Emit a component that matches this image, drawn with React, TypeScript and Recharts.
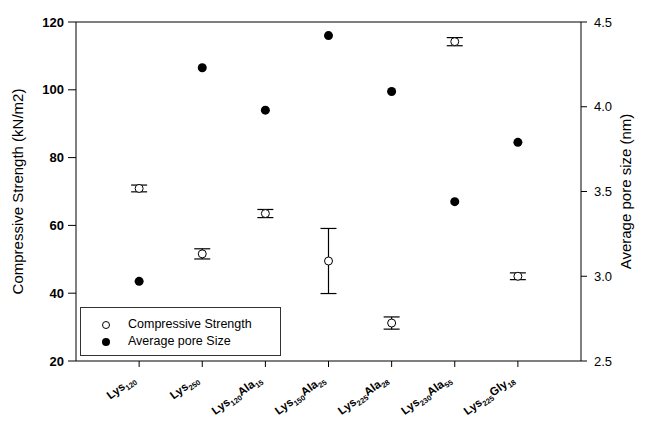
import {
  ComposedChart,
  Scatter,
  XAxis,
  YAxis,
  ErrorBar,
  ReferenceLine,
  Legend,
} from "recharts";

const categories = ["Lys120", "Lys250", "Lys120Ala15", "Lys150Ala25", "Lys225Ala28", "Lys230Ala55", "Lys225Gly18"];
const strength = [70.9, 51.6, 63.5, 49.5, 31.2, 114.2, 45.0];
const strengthErr = [1.0, 1.5, 1.2, 9.6, 1.8, 1.2, 1.0];
const poreSize = [2.97, 4.23, 3.98, 4.42, 4.09, 3.44, 3.79];

const leftTicks = [20, 40, 60, 80, 100, 120];
const rightTicks = [2.5, 3.0, 3.5, 4.0, 4.5];

const data = categories.map((name, i) => ({
  x: i + 1,
  name,
  strength: strength[i],
  strengthErr: strengthErr[i],
  pore: poreSize[i],
}));

const FONT = "Arial, 'Liberation Sans', sans-serif";

// Lys120Ala15 -> Lys + sub(120) + Ala + sub(15)
function XTick(props: any) {
  const { x, y, payload } = props;
  const name = categories[payload.value - 1];
  if (!name) return null;
  const parts = name.match(/[A-Za-z]+|\d+/g) || [];
  let shifted = false;
  const spans = parts.map((p: string, i: number) => {
    const isSub = /\d/.test(p);
    let dy = 0;
    if (isSub && !shifted) { dy = 3; shifted = true; }
    if (!isSub && shifted) { dy = -3; shifted = false; }
    return (
      <tspan key={i} fontSize={isSub ? 7.5 : 11.5} dy={dy}>{p}</tspan>
    );
  });
  return (
    <text
      transform={`translate(${x - 3},${y + 12}) rotate(-36)`}
      textAnchor="end"
      fontFamily={FONT}
      fontWeight="bold"
      fill="#000"
    >
      {spans}
    </text>
  );
}

const OpenDot = (props: any) => (
  <circle cx={props.cx} cy={props.cy} r={4} fill="#fff" stroke="#000" strokeWidth={1} />
);
const FilledDot = (props: any) => (
  <circle cx={props.cx} cy={props.cy} r={4.5} fill="#000" />
);

function LegendBox() {
  return (
    <div
      style={{
        width: 201,
        height: 49,
        border: "1px solid #333",
        background: "#fff",
        fontFamily: FONT,
        fontSize: 12.5,
        color: "#000",
        boxSizing: "border-box",
        padding: "8px 0 0 20px",
        lineHeight: "17px",
        textAlign: "left",
      }}
    >
      <div style={{ display: "flex", alignItems: "center" }}>
        <svg width={10} height={10} style={{ marginRight: 17 }}>
          <circle cx={5} cy={5} r={3.5} fill="#fff" stroke="#000" />
        </svg>
        Compressive Strength
      </div>
      <div style={{ display: "flex", alignItems: "center" }}>
        <svg width={10} height={10} style={{ marginRight: 17 }}>
          <circle cx={5} cy={5} r={4} fill="#000" />
        </svg>
        Average pore Size
      </div>
    </div>
  );
}

export default function App() {
  return (
    <div style={{ position: "absolute", left: 0, top: 0, width: 645, height: 421, background: "#fff" }}>
      <ComposedChart
        width={645}
        height={421}
        data={data}
        margin={{ top: 22, right: 0, bottom: 0, left: 0 }}
      >
        <XAxis
          dataKey="x"
          type="number"
          domain={[0, 8]}
          ticks={[1, 2, 3, 4, 5, 6, 7]}
          height={60}
          stroke="#000"
          tickSize={6}
          tick={<XTick />}
          interval={0}
        />
        <YAxis
          yAxisId="left"
          domain={[20, 120]}
          ticks={leftTicks}
          width={76}
          stroke="#000"
          tickSize={8}
          tickMargin={4}
          tick={{ fill: "#000", fontSize: 13, fontWeight: "bold", fontFamily: FONT }}
          label={{
            value: "Compressive Strength (kN/m2)",
            angle: -90,
            position: "insideLeft",
            offset: 18,
            style: { textAnchor: "middle", fontSize: 15, fontFamily: FONT, fill: "#000" },
          }}
        />
        <YAxis
          yAxisId="right"
          orientation="right"
          domain={[2.5, 4.5]}
          ticks={rightTicks}
          width={64}
          stroke="#000"
          tickSize={6}
          tickMargin={7}
          tickFormatter={(v: number) => v.toFixed(1)}
          tick={{ fill: "#000", fontSize: 13, fontFamily: FONT }}
          label={{
            value: "Average pore size (nm)",
            angle: -90,
            position: "insideRight",
            offset: 19,
            style: { textAnchor: "middle", fontSize: 15, fontFamily: FONT, fill: "#000" },
          }}
        />
        <ReferenceLine yAxisId="left" y={120} stroke="#000" />
        <Legend
          layout="horizontal"
          verticalAlign="middle"
          align="center"
          content={<LegendBox />}
          wrapperStyle={{ position: "absolute", left: 80, top: 307, width: 201, height: 49 }}
        />
        <Scatter
          yAxisId="left"
          dataKey="strength"
          name="Compressive Strength"
          shape={<OpenDot />}
          isAnimationActive={false}
        >
          <ErrorBar dataKey="strengthErr" direction="y" width={8} stroke="#000" strokeWidth={1.2} />
        </Scatter>
        <Scatter
          yAxisId="right"
          dataKey="pore"
          name="Average pore Size"
          shape={<FilledDot />}
          isAnimationActive={false}
        />
      </ComposedChart>
    </div>
  );
}
